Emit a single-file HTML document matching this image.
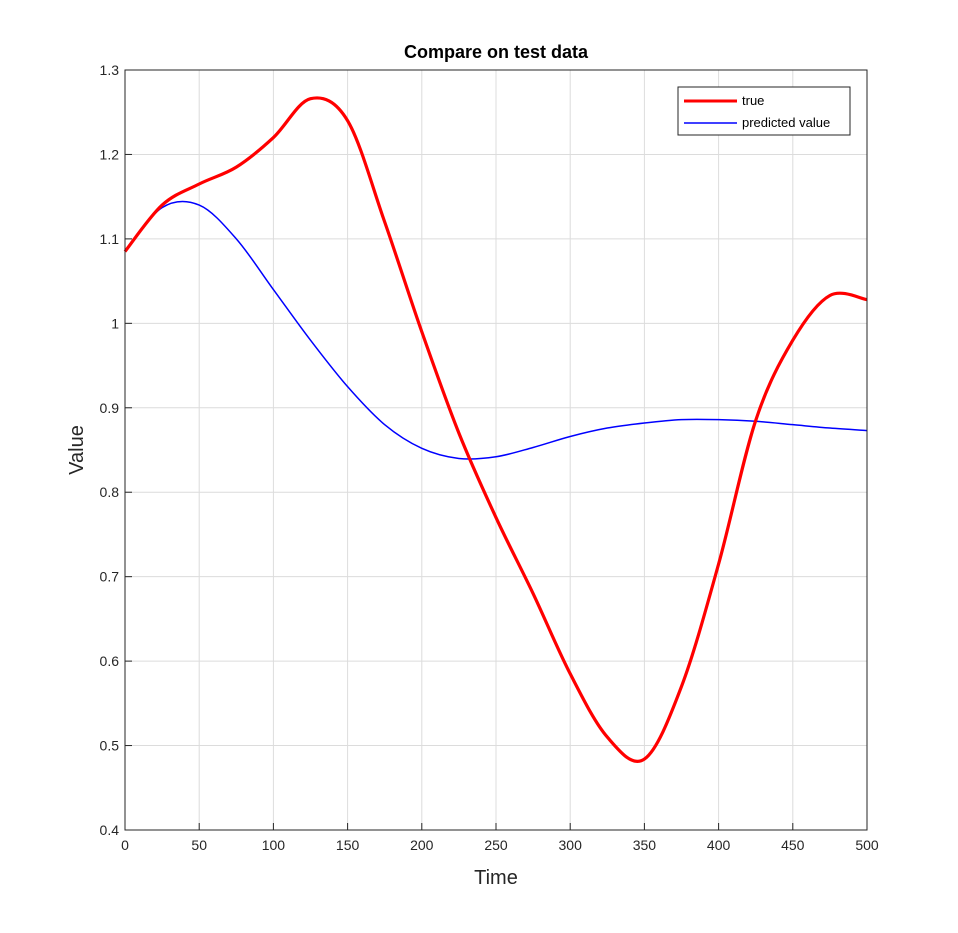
<!DOCTYPE html>
<html><head><meta charset="utf-8"><style>
body{margin:0;background:#fff;}
svg{display:block;font-family:"Liberation Sans",Arial,sans-serif;}
</style></head><body>
<svg id="chart" width="958" height="933">
<rect width="958" height="933" fill="#fff"/>
<rect x="125" y="70" width="742" height="760" fill="#fff"/>
<g id="grid"></g><g id="ticks"></g><g id="series"></g>
<rect x="125" y="70" width="742" height="760" fill="none" stroke="#262626" stroke-width="1"/>
<text x="496" y="58" text-anchor="middle" font-size="18" font-weight="bold" fill="#000">Compare on test data</text>
<text x="496" y="884" text-anchor="middle" font-size="20" fill="#262626">Time</text>
<text transform="translate(83,450) rotate(-90)" text-anchor="middle" font-size="20" fill="#262626">Value</text>
<g>
<rect x="678" y="87" width="172" height="48" fill="#fff" stroke="#262626" stroke-width="1"/>
<line x1="684" y1="101" x2="737" y2="101" stroke="#f00" stroke-width="3"/>
<text x="742" y="105" font-size="13" fill="#000">true</text>
<line x1="684" y1="123" x2="737" y2="123" stroke="#00f" stroke-width="1.5"/>
<text x="742" y="127" font-size="13" fill="#000">predicted value</text>
</g>
</svg>
<script>
const xTicks=[0,50,100,150,200,250,300,350,400,450,500];
const yTicks=[0.4,0.5,0.6,0.7,0.8,0.9,1,1.1,1.2,1.3];
const yTickLabels=["0.4","0.5","0.6","0.7","0.8","0.9","1","1.1","1.2","1.3"];
const trueX=[0,25,50,75,100,125,150,175,200,225,250,275,300,325,350,375,400,425,450,475,500];
const trueY=[1.085,1.14,1.165,1.185,1.22,1.266,1.24,1.12,0.99,0.87,0.77,0.68,0.585,0.51,0.484,0.57,0.715,0.885,0.98,1.033,1.028];
const predX=[0,25,50,75,100,125,150,175,200,225,250,275,300,325,350,375,400,425,450,475,500];
const predY=[1.085,1.137,1.14,1.1,1.04,0.98,0.925,0.88,0.852,0.84,0.842,0.853,0.866,0.876,0.882,0.886,0.886,0.884,0.88,0.876,0.873];
const X0=125,X1=867,Y0=830,Y1=70;
const sx=v=>X0+(v-0)/(500-0)*(X1-X0);
const sy=v=>Y0-(v-0.4)/(1.3-0.4)*(Y0-Y1);
const NS="http://www.w3.org/2000/svg";
const grid=document.getElementById('grid'),ticks=document.getElementById('ticks'),series=document.getElementById('series');
function mk(tag,attrs,parent){const e=document.createElementNS(NS,tag);for(const k in attrs)e.setAttribute(k,attrs[k]);parent.appendChild(e);return e;}
xTicks.forEach(t=>{
 const g=mk('line',{x1:sx(t),x2:sx(t),y1:Y1,y2:Y0,stroke:'#dcdcdc','stroke-width':1},grid);
 
 
 const tk=mk('line',{x1:sx(t),x2:sx(t),y1:Y0,y2:Y0-7,stroke:'#262626'},ticks);
 
 
 const l=mk('text',{x:sx(t),y:Y0+20,'text-anchor':'middle','font-size':14,fill:'#262626'},ticks);
 l.textContent=t;
 
 
});
yTicks.forEach((t,i)=>{
 const g=mk('line',{x1:X0,x2:X1,y1:sy(t),y2:sy(t),stroke:'#dcdcdc','stroke-width':1},grid);
 
 
 const tk=mk('line',{x1:X0,x2:X0+7,y1:sy(t),y2:sy(t),stroke:'#262626'},ticks);
 
 
 const l=mk('text',{x:X0-6,y:sy(t)+5,'text-anchor':'end','font-size':14,fill:'#262626'},ticks);
 l.textContent=yTickLabels[i];
 
 
});
function path(xs,ys){
 const p=xs.map((x,i)=>[sx(x),sy(ys[i])]);
 let d='M'+p[0][0]+','+p[0][1];
 for(let i=0;i<p.length-1;i++){
  const a=p[i-1]||p[i],b=p[i],c=p[i+1],e=p[i+2]||c;
  const c1=[b[0]+(c[0]-a[0])/6,b[1]+(c[1]-a[1])/6],c2=[c[0]-(e[0]-b[0])/6,c[1]-(e[1]-b[1])/6];
  d+=`C${c1[0]},${c1[1]} ${c2[0]},${c2[1]} ${c[0]},${c[1]}`;
 }
 return d;
}
const pr=mk('path',{d:path(predX,predY),fill:'none',stroke:'#00f','stroke-width':1.5},series);


const tr=mk('path',{d:path(trueX,trueY),fill:'none',stroke:'#f00','stroke-width':3.2},series);


</script>
</body></html>
